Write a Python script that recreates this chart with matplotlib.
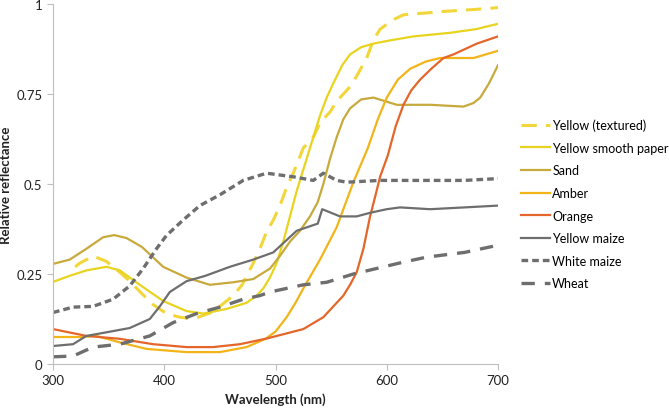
import matplotlib
matplotlib.use("Agg")
import matplotlib.pyplot as plt

plt.rcParams["font.family"] = ["Lato", "DejaVu Sans"]

# values
yt_x = [320, 324, 336, 348, 360, 369, 380, 390, 402, 414, 426, 444, 462, 470, 480, 486, 491, 498, 504, 510, 516, 525, 534, 540, 549, 555, 567, 573, 582, 588, 594, 605, 615, 635, 654, 680, 700]
yt_y = [0.27, 0.28, 0.30, 0.285, 0.255, 0.23, 0.195, 0.165, 0.14, 0.13, 0.125, 0.145, 0.19, 0.22, 0.28, 0.32, 0.36, 0.40, 0.44, 0.49, 0.53, 0.60, 0.63, 0.67, 0.70, 0.73, 0.77, 0.80, 0.85, 0.90, 0.93, 0.955, 0.97, 0.975, 0.98, 0.985, 0.99]

ys_x = [300, 315, 330, 348, 360, 378, 399, 420, 435, 456, 474, 483, 489, 495, 501, 507, 513, 519, 525, 531, 540, 546, 552, 560, 567, 577, 588, 605, 624, 657, 680, 700]
ys_y = [0.228, 0.245, 0.26, 0.27, 0.26, 0.22, 0.175, 0.147, 0.14, 0.153, 0.17, 0.19, 0.21, 0.24, 0.28, 0.34, 0.41, 0.48, 0.54, 0.60, 0.69, 0.74, 0.78, 0.83, 0.86, 0.88, 0.89, 0.90, 0.91, 0.92, 0.93, 0.945]

sand_x = [300, 315, 330, 345, 355, 366, 380, 399, 420, 441, 462, 480, 495, 504, 513, 522, 531, 538, 543, 549, 555, 561, 567, 577, 588, 609, 639, 669, 678, 684, 692, 700]
sand_y = [0.278, 0.29, 0.32, 0.352, 0.358, 0.35, 0.325, 0.27, 0.24, 0.22, 0.227, 0.236, 0.265, 0.30, 0.34, 0.37, 0.41, 0.45, 0.50, 0.57, 0.63, 0.68, 0.71, 0.735, 0.74, 0.72, 0.72, 0.715, 0.725, 0.74, 0.78, 0.83]

amber_x = [300, 324, 339, 360, 384, 420, 450, 474, 491, 500, 510, 518, 525, 540, 555, 570, 583, 592, 600, 610, 621, 635, 648, 678, 700]
amber_y = [0.075, 0.075, 0.078, 0.06, 0.042, 0.033, 0.033, 0.047, 0.07, 0.09, 0.13, 0.17, 0.21, 0.29, 0.38, 0.505, 0.60, 0.68, 0.74, 0.79, 0.82, 0.84, 0.85, 0.85, 0.87]

orange_x = [300, 330, 360, 390, 420, 444, 468, 491, 510, 525, 543, 561, 567, 573, 579, 585, 590, 594, 601, 608, 615, 622, 630, 640, 651, 660, 681, 700]
orange_y = [0.097, 0.078, 0.07, 0.055, 0.047, 0.047, 0.055, 0.07, 0.085, 0.097, 0.13, 0.19, 0.22, 0.255, 0.32, 0.41, 0.47, 0.52, 0.58, 0.66, 0.72, 0.76, 0.79, 0.82, 0.85, 0.86, 0.89, 0.91]

ym_x = [300, 318, 330, 348, 369, 387, 396, 405, 420, 437, 459, 480, 498, 519, 538, 542, 550, 558, 573, 585, 600, 612, 639, 670, 700]
ym_y = [0.05, 0.055, 0.078, 0.088, 0.10, 0.125, 0.16, 0.20, 0.23, 0.245, 0.27, 0.29, 0.31, 0.37, 0.39, 0.43, 0.42, 0.41, 0.41, 0.42, 0.43, 0.435, 0.43, 0.435, 0.44]

wm_x = [300, 318, 336, 354, 369, 381, 393, 402, 417, 432, 450, 471, 492, 516, 534, 543, 555, 564, 594, 636, 670, 700]
wm_y = [0.143, 0.158, 0.16, 0.18, 0.217, 0.265, 0.32, 0.357, 0.40, 0.44, 0.47, 0.51, 0.53, 0.52, 0.51, 0.53, 0.51, 0.505, 0.51, 0.51, 0.51, 0.515]

wheat_x = [300, 318, 336, 360, 387, 408, 429, 450, 471, 486, 495, 525, 546, 570, 615, 636, 670, 700]
wheat_y = [0.02, 0.022, 0.047, 0.055, 0.078, 0.115, 0.14, 0.158, 0.18, 0.19, 0.20, 0.22, 0.227, 0.25, 0.283, 0.297, 0.31, 0.33]

fig = plt.figure(figsize=(6.69, 4.10), dpi=100)
ax = fig.add_axes([53 / 669, 45 / 410, 445 / 669, 360 / 410])

ax.plot(yt_x, yt_y, color="#F2D63A", lw=2.2, dashes=(5, 3), label="Yellow (textured)")
ax.plot(ys_x, ys_y, color="#E8D41E", lw=1.6, label="Yellow smooth paper")
ax.plot(sand_x, sand_y, color="#C8A93C", lw=1.6, label="Sand")
ax.plot(amber_x, amber_y, color="#F2B418", lw=1.6, label="Amber")
ax.plot(orange_x, orange_y, color="#E4662A", lw=1.6, label="Orange")
ax.plot(ym_x, ym_y, color="#6E6E6E", lw=1.6, label="Yellow maize")
ax.plot(wm_x, wm_y, color="#6E6E6E", lw=2.4, dashes=(2, 1.2), label="White maize")
ax.plot(wheat_x, wheat_y, color="#6E6E6E", lw=2.4, dashes=(4, 3), label="Wheat")

ax.set_xlim(300, 700)
ax.set_ylim(0, 1)
ax.set_xticks([300, 400, 500, 600, 700])
ax.set_yticks([0, 0.25, 0.5, 0.75, 1])
ax.set_yticklabels(["0", "0.25", "0.5", "0.75", "1"])
for s in ["top", "right"]:
    ax.spines[s].set_visible(False)
for s in ["left", "bottom"]:
    ax.spines[s].set_color("#BFBFBF")
ax.tick_params(colors="#BFBFBF", labelcolor="#222222", labelsize=9.5, length=4)

ax.set_xlabel("Wavelength (nm)", fontweight="bold", fontsize=9.5, color="#222222")
ax.set_ylabel("Relative reflectance", fontweight="bold", fontsize=9.5, color="#222222")
ax.yaxis.set_label_coords(-0.093, 0.5)

fig.legend(loc="center left", bbox_to_anchor=(521 / 669, 0.5), frameon=False,
           fontsize=9, handlelength=2.3, handletextpad=0.2, labelspacing=0.85,
           borderaxespad=0, borderpad=0)

fig.savefig("out.png", dpi=100)
